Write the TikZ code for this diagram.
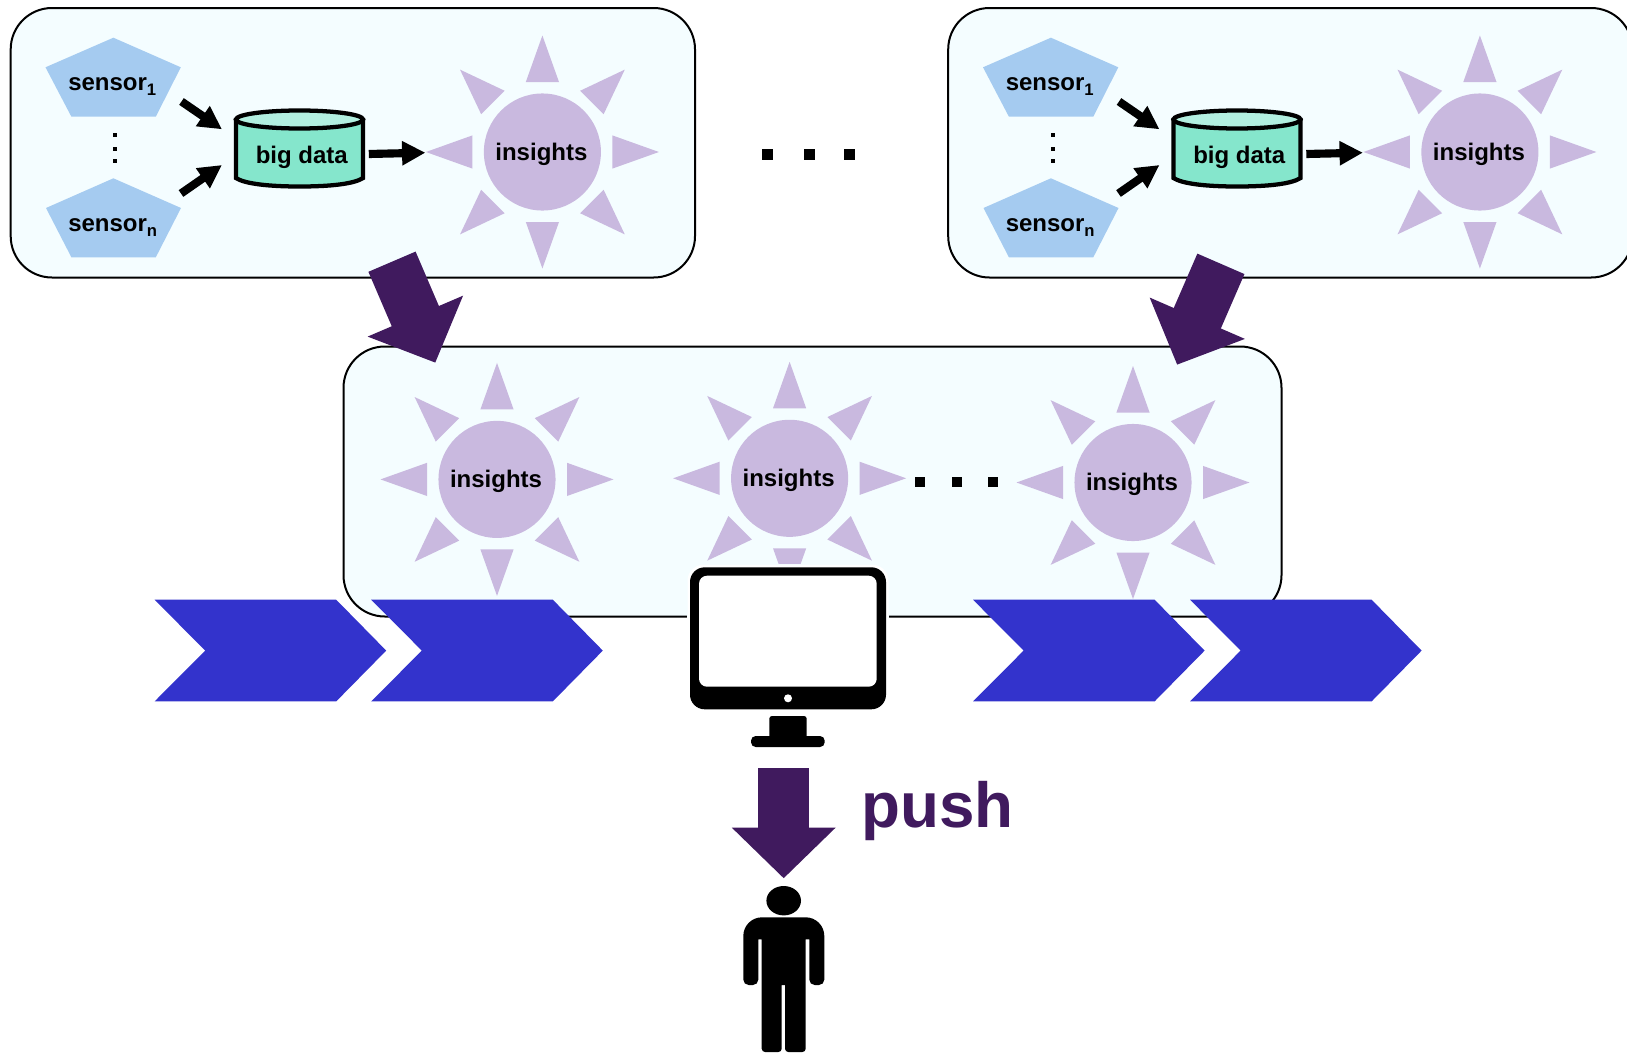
\documentclass[tikz,border=0pt]{standalone}
\usepackage{fontspec}
\setmainfont{Liberation Sans}
\usetikzlibrary{arrows.meta}
\definecolor{boxbg}{HTML}{F4FDFF}
\definecolor{penta}{HTML}{A5CBF0}
\definecolor{sunc}{HTML}{C9B9DF}
\definecolor{purp}{HTML}{401A5E}
\definecolor{chev}{HTML}{3333CC}
\definecolor{dbbody}{HTML}{85E6CC}
\definecolor{dbtop}{HTML}{B2EFE0}
\tikzset{
  panel/.style={draw=black,line width=1.5pt,fill=boxbg,rounded corners=31pt},
  pentafill/.style={fill=penta},
  lbl/.style={font=\bfseries\fontsize{18}{20}\selectfont,inner sep=0pt,text=black},
  sunbody/.style={circle,fill=sunc,minimum size=87.8pt,inner sep=0pt,font=\bfseries\fontsize{18}{20}\selectfont},
  suntri/.style={fill=sunc},
  smallarrow/.style={line width=6.1pt,black,-{Triangle[length=17.5pt,width=17.25pt]}},
  bigarrow/.style={line width=38.5pt,purp,-{Triangle[length=38pt,width=75.6pt]}},
  chevron/.style={fill=chev},
  dot/.style={fill=black},
}
\newcommand{\sunny}[3]{%
  \foreach \a in {0,45,...,315}{\fill[suntri,shift={(#2,#3)},rotate=\a] (70,-16.6)--(116.5,0)--(70,16.6)--cycle;}
  \node[sunbody] (#1) at (#2,#3) {\kern-1.5pt\raisebox{-6.1pt}[8pt][8pt]{insights}};}
\newcommand{\chevr}[1]{\fill[chevron,shift={(#1,0)}] (0,599.7)--(50.6,650.6)--(0,701.4)--(181.6,701.4)--(231.6,650.6)--(181.6,599.7)--cycle;}
\newcommand{\group}[2]{% #1 = name prefix, #2 = x offset
  \begin{scope}[shift={(#2,0)}]
    \fill[pentafill] (113.4,37.7)--(180.8,67.3)--(155.8,116.7)--(71.4,116.7)--(45.5,67.3)--cycle;
    \fill[pentafill] (113.4,178.3)--(181,208)--(155.8,257.3)--(71.4,257.3)--(46,208)--cycle;
    \node[lbl,anchor=base west] (#1s1) at (68,90.5) {sensor\raisebox{-3.8pt}{\fontsize{12.5}{13}\selectfont 1}};
    \node[lbl,anchor=base west] (#1sn) at (68,231.2) {sensor\raisebox{-3.8pt}{\fontsize{12.5}{13}\selectfont n}};
    \foreach \yy in {134.7,148.5,161.3}{\fill[dot] (113.2,\yy-2)rectangle(117.2,\yy+2);}
    \draw[line width=3.2pt,fill=dbbody] (236,120)--(236,178) .. controls (245,184) and (270,186.5) .. (299.5,186.5) .. controls (330,186.5) and (354,184) .. (363,178)--(363,120)--cycle;
    \draw[line width=3.2pt,fill=dbtop] (299.5,119.5) ellipse [x radius=63.5,y radius=9];
    \node[lbl] (#1db) at (301.8,157) {big data};
    \coordinate (#1a1) at (181.5,101.5);
    \coordinate (#1b1) at (222,129.3);
    \coordinate (#1a2) at (181,193.5);
    \coordinate (#1b2) at (222,165);
    \coordinate (#1a3) at (368.8,154);
    \coordinate (#1b3) at (425.4,152.7);
    \draw[smallarrow] (#1a1)--(#1b1);
    \draw[smallarrow] (#1a2)--(#1b2);
    \draw[smallarrow] (#1a3)--(#1b3);
    \sunny{#1sun}{542.4}{152}
  \end{scope}}
\begin{document}
\begin{tikzpicture}[x=0.75pt,y=-0.75pt]
\useasboundingbox (0,0) rectangle (1627,1053);
\clip (0,0) rectangle (1627,1053);
% panels
\draw[panel] (10.7,8) rectangle (695,277.5);
\draw[panel] (948.2,8) rectangle (1632.5,277.5);
\draw[panel] (343.5,346.5) rectangle (1281.5,616.5);
% groups
\group{A}{0}
\group{B}{937.5}
% dots between panels
\foreach \xx in {767.8,809.3,849.8}{\fill[dot] (\xx-5.5,149)rectangle(\xx+5.5,160);}
% middle suns
\sunny{sunI}{497}{479.4}
\sunny{sunII}{789.6}{478.3}
\sunny{sunIII}{1133}{482.5}
\foreach \xx in {920.3,956.7,993}{\fill[dot] (\xx-5,476.5)rectangle(\xx+5,486.5);}
% chevrons
\chevr{154.6}
\chevr{371.2}
\chevr{973}
\chevr{1190}
% monitor
\fill[boxbg] (687,564) rectangle (889,616.5);
\fill[white] (687,616.5) rectangle (889,712);
\fill[white,rounded corners=12pt] (687.5,564.8) rectangle (888.5,711.8);
\fill[black,rounded corners=11pt] (690,567.3) rectangle (886,709.3);
\fill[white,rounded corners=6pt] (699,575.7) rectangle (876.7,686.7);
\fill[white] (788,698.3) circle [radius=4];
\fill[black,rounded corners=2pt] (769.3,716) rectangle (806.7,740);
\fill[black,rounded corners=3.5pt] (751,736) rectangle (824.7,747);
% big arrows
\coordinate (t1) at (392,261.7);
\coordinate (h1) at (435.3,362.7);
\coordinate (t2) at (1220.9,263.85);
\coordinate (h2) at (1177.1,364.7);
\coordinate (t3) at (783.7,768);
\coordinate (h3) at (783.7,878.3);
\draw[bigarrow] (t1)--(h1);
\draw[bigarrow] (t2)--(h2);
\draw[bigarrow] (t3)--(h3);
\node[anchor=base west,inner sep=0pt,text=purp,font=\bfseries\fontsize{47.8}{50}\selectfont] (pushlabel) at (861,827) {push};
% person
\fill[black] (783.7,900.7) ellipse [x radius=17.3,y radius=14.7];
\fill[black,rounded corners=4pt] (743.3,985) [rounded corners=14pt] -- (743.3,917.3) -- (824.3,917.3) [rounded corners=4pt] -- (824.3,985) -- (809.3,985) [sharp corners] -- (809.3,939.3) -- (805.7,939.3) [rounded corners=2.5pt] -- (805.7,1052) -- (785,1052) [sharp corners] -- (785,985) -- (781.7,985) [rounded corners=2.5pt] -- (781.7,1052) -- (761.7,1052) [sharp corners] -- (761.7,939.3) -- (758.3,939.3) [rounded corners=4pt] -- (758.3,985) -- cycle;
\end{tikzpicture}
\end{document}
